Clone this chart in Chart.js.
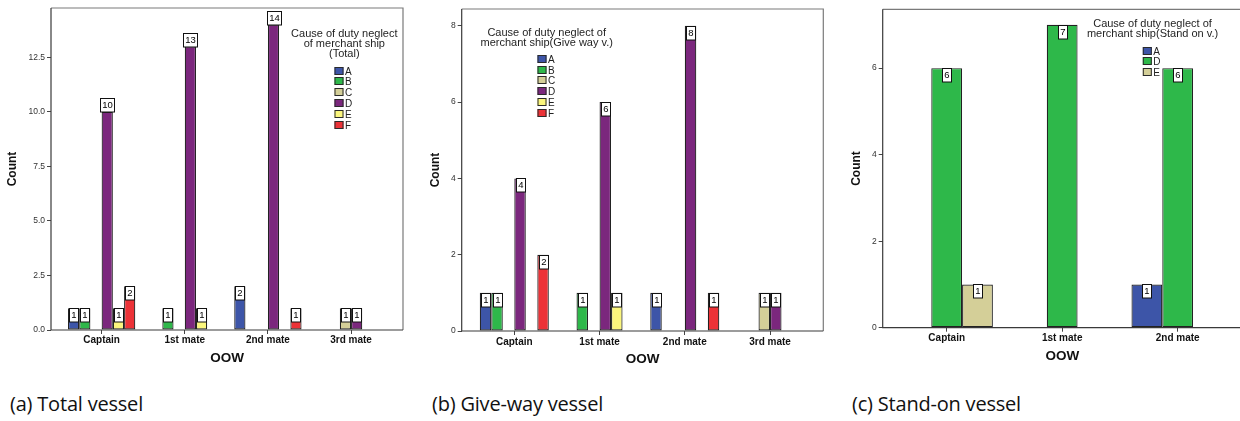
<!DOCTYPE html>
<html>
<head>
<meta charset="utf-8">
<script src="https://cdn.jsdelivr.net/npm/chart.js@4.4.1/dist/chart.umd.min.js"></script>
<style>
  html, body { margin: 0; padding: 0; background: #fff; overflow: hidden; }
  body { position: relative; width: 1240px; height: 421px; }
  canvas { position: absolute; top: 0; }
  .cap { position: absolute; top: 390px; font-family: "Open Sans", "Noto Sans", sans-serif;
         font-size: 20px; line-height: 28px; color: #111; white-space: nowrap; letter-spacing: -0.2px; }
</style>
</head>
<body>
<canvas id="totalChart" width="415" height="370" style="left:0px"></canvas>
<canvas id="giveWayChart" width="415" height="370" style="left:420px"></canvas>
<canvas id="standOnChart" width="420" height="370" style="left:830px"></canvas>
<div class="cap" style="left:10px">(a) Total vessel</div>
<div class="cap" style="left:432px">(b) Give-way vessel</div>
<div class="cap" style="left:852px">(c) Stand-on vessel</div>

<script>
// Officer of the watch categories
const oowFour = ['Captain', '1st mate', '2nd mate', '3rd mate'];
const oowThree = ['Captain', '1st mate', '2nd mate'];

// Counts by cause of duty neglect, total vessels
const totalA = [1, 0, 2, 0];
const totalB = [1, 1, 0, 0];
const totalC = [0, 0, 0, 1];
const totalD = [10, 13, 14, 1];
const totalE = [1, 1, 0, 0];
const totalF = [2, 0, 1, 0];

// Give-way vessels
const giveA = [1, 0, 1, 0];
const giveB = [1, 1, 0, 0];
const giveC = [0, 0, 0, 1];
const giveD = [4, 6, 8, 1];
const giveE = [0, 1, 0, 0];
const giveF = [2, 0, 1, 0];

// Stand-on vessels
const standA = [0, 0, 1];
const standD = [6, 7, 6];
const standE = [1, 0, 0];

// Axis tick values
const totalTicks = [0, 2.5, 5, 7.5, 10, 12.5];
const giveTicks = [0, 2, 4, 6, 8];
const standTicks = [0, 2, 4, 6];

const FONT = '"Liberation Sans", Arial, sans-serif';
const palette = ['#3d55a8', '#2eb84a', '#d4cf98', '#7b277d', '#fbf67c', '#ec3237'];

// Frame around the plot area
const plotFrame = {
  id: 'plotFrame',
  beforeDatasetsDraw(chart) {
    const { ctx, chartArea: a } = chart;
    ctx.save();
    ctx.lineWidth = 1.2;
    ctx.strokeStyle = '#7a7a7a';
    ctx.beginPath();
    ctx.moveTo(a.left, a.top); ctx.lineTo(a.right, a.top); ctx.lineTo(a.right, a.bottom);
    ctx.stroke();
    ctx.strokeStyle = '#3a3a3a';
    ctx.beginPath();
    ctx.moveTo(a.left, a.top); ctx.lineTo(a.left, a.bottom); ctx.lineTo(a.right, a.bottom);
    ctx.stroke();
    ctx.restore();
  }
};

// White count boxes at the top of each bar: inside when the box fits, above otherwise
const countBoxes = {
  id: 'countBoxes',
  afterDatasetsDraw(chart) {
    const ctx = chart.ctx;
    ctx.save();
    ctx.font = '9.5px ' + FONT;
    ctx.textAlign = 'center';
    ctx.textBaseline = 'middle';
    chart.data.datasets.forEach((ds, di) => {
      const meta = chart.getDatasetMeta(di);
      meta.data.forEach((bar, i) => {
        const v = ds.data[i].y;
        if (v === null) return;
        const txt = String(v);
        const w = Math.max(9, Math.round(ctx.measureText(txt).width + 3));
        const h = 13.5;
        const inside = w <= bar.width - 2;
        const top = Math.round(inside ? bar.y : bar.y - h) + 0.5;
        const left = Math.round(bar.x - w / 2) + 0.5;
        ctx.fillStyle = '#fff';
        ctx.fillRect(left, top, w, h);
        ctx.strokeStyle = '#111';
        ctx.lineWidth = 1;
        ctx.strokeRect(left, top, w, h);
        ctx.fillStyle = '#000';
        ctx.fillText(txt, left + w / 2, top + h / 2 + 0.5);
      });
    });
    ctx.restore();
  }
};

// Legend with a centred multi-line title, placed inside the plot
function causeLegend(cfg) {
  return {
    id: 'causeLegend',
    afterDraw(chart) {
      const ctx = chart.ctx;
      ctx.save();
      ctx.fillStyle = '#1e1e1e';
      ctx.font = '11px ' + FONT;
      ctx.textAlign = 'center';
      ctx.textBaseline = 'middle';
      cfg.title.forEach((line, i) => ctx.fillText(line, cfg.titleX, cfg.titleY + i * cfg.titleStep));
      ctx.font = '10px ' + FONT;
      ctx.textAlign = 'left';
      chart.data.datasets.forEach((ds, i) => {
        const y = Math.round(cfg.rowY + i * cfg.rowStep);
        ctx.fillStyle = ds.backgroundColor;
        ctx.fillRect(cfg.boxX, y - 4, 9, 8);
        ctx.strokeStyle = '#2a2a2a';
        ctx.lineWidth = 1;
        ctx.strokeRect(cfg.boxX + 0.5, y - 3.5, 8, 7);
        ctx.fillStyle = '#222';
        ctx.fillText(ds.label, cfg.boxX + 10.5, y + 1);
      });
      ctx.restore();
    }
  };
}

function buildChart(id, p) {
  const datasets = p.series.map((s) => ({
    label: s.label,
    data: s.values.map((v, i) => ({ x: i, y: v === 0 ? null : v })),
    backgroundColor: s.color,
    borderColor: '#222',
    borderWidth: 1.2,
    borderSkipped: false,
    categoryPercentage: p.catPct,
    barPercentage: 1
  }));
  return new Chart(document.getElementById(id), {
    type: 'bar',
    data: { datasets },
    options: {
      responsive: false,
      animation: false,
      devicePixelRatio: 1,
      layout: { padding: { top: p.padTop, right: p.padRight, left: 0, bottom: 0 } },
      plugins: { legend: { display: false }, tooltip: { enabled: false } },
      scales: {
        x: {
          type: 'linear',
          min: p.xMin,
          max: p.xMax,
          offset: false,
          afterBuildTicks: (s) => { s.ticks = p.categories.map((c, i) => ({ value: i })); },
          afterFit: (s) => { s.height = p.xAxisH; },
          grid: { display: true, offset: false, drawOnChartArea: false, drawTicks: true, tickLength: 4, color: '#444' },
          border: { display: false },
          ticks: {
            autoSkip: false, maxRotation: 0, padding: p.xTickPad, color: '#111',
            font: { family: FONT, size: 10, weight: 'bold' },
            callback: (v) => p.categories[v]
          },
          title: {
            display: true, text: 'OOW', color: '#111',
            font: { family: FONT, size: 13.5, weight: 'bold' },
            padding: { top: 0, bottom: p.xTitlePad }
          }
        },
        y: {
          type: 'linear',
          min: 0,
          max: p.yMax,
          afterBuildTicks: (s) => { s.ticks = p.yTicks.map((v) => ({ value: v })); },
          afterFit: (s) => { s.width = p.yAxisW; },
          grid: { display: true, drawOnChartArea: false, drawTicks: true, tickLength: 4, color: '#444' },
          border: { display: false },
          ticks: {
            padding: 2, color: '#333',
            font: { family: FONT, size: 8.5 },
            callback: (v) => p.yFmt(v)
          },
          title: {
            display: true, text: 'Count', color: '#111',
            font: { family: FONT, size: 12, weight: 'bold' },
            padding: { top: p.yTitlePad, bottom: 0 }
          }
        }
      }
    },
    plugins: [plotFrame, countBoxes, causeLegend(p.legend)]
  });
}

buildChart('totalChart', {
  categories: oowFour,
  series: [
    { label: 'A', values: totalA, color: palette[0] },
    { label: 'B', values: totalB, color: palette[1] },
    { label: 'C', values: totalC, color: palette[2] },
    { label: 'D', values: totalD, color: palette[3] },
    { label: 'E', values: totalE, color: palette[4] },
    { label: 'F', values: totalF, color: palette[5] }
  ],
  catPct: 0.81,
  xMin: -0.609, xMax: 3.625,
  yMax: 14.76, yTicks: totalTicks, yFmt: (v) => v.toFixed(1),
  padTop: 8, padRight: 12, yAxisW: 51, xAxisH: 40,
  xTickPad: 0, xTitlePad: 3.5, yTitlePad: 5,
  legend: {
    title: ['Cause of duty neglect', 'of merchant ship', '(Total)'],
    titleX: 344.3, titleY: 34, titleStep: 10.2,
    boxX: 334.5, rowY: 70.5, rowStep: 10.9
  }
});

buildChart('giveWayChart', {
  categories: oowFour,
  series: [
    { label: 'A', values: giveA, color: palette[0] },
    { label: 'B', values: giveB, color: palette[1] },
    { label: 'C', values: giveC, color: palette[2] },
    { label: 'D', values: giveD, color: palette[3] },
    { label: 'E', values: giveE, color: palette[4] },
    { label: 'F', values: giveF, color: palette[5] }
  ],
  catPct: 0.81,
  xMin: -0.617, xMax: 3.625,
  yMax: 8.44, yTicks: giveTicks, yFmt: (v) => String(v),
  padTop: 9, padRight: 11.7, yAxisW: 41.7, xAxisH: 39,
  xTickPad: 1, xTitlePad: 2.7, yTitlePad: 8,
  legend: {
    title: ['Cause of duty neglect of', 'merchant ship(Give way v.)'],
    titleX: 126.7, titleY: 32.7, titleStep: 10,
    boxX: 117.5, rowY: 58.7, rowStep: 10.85
  }
});

buildChart('standOnChart', {
  categories: oowThree,
  series: [
    { label: 'A', values: standA, color: palette[0] },
    { label: 'D', values: standD, color: palette[1] },
    { label: 'E', values: standE, color: palette[2] }
  ],
  catPct: 0.8,
  xMin: -0.554, xMax: 2.557,
  yMax: 7.36, yTicks: standTicks, yFmt: (v) => String(v),
  padTop: 9.3, padRight: 8, yAxisW: 52.7, xAxisH: 42.3,
  xTickPad: 1, xTitlePad: 5.7, yTitlePad: 19.7,
  legend: {
    title: ['Cause of duty neglect of', 'merchant ship(Stand on v.)'],
    titleX: 322.5, titleY: 24.3, titleStep: 10,
    boxX: 312.8, rowY: 50.8, rowStep: 10.4
  }
});
</script>
</body>
</html>
